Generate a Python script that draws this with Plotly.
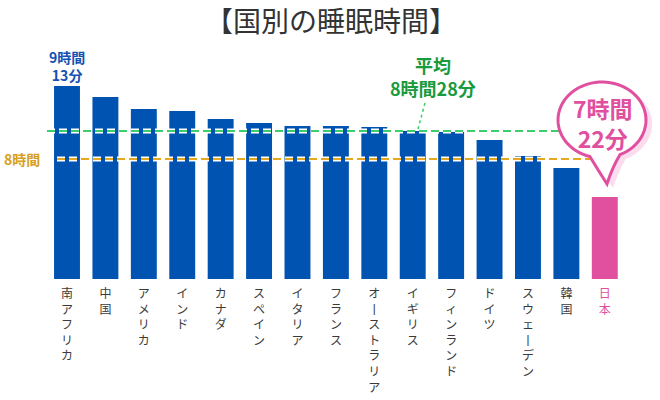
import plotly.graph_objects as go
import math

# ---- data (minutes of sleep per day) ----
countries = ["南アフリカ", "中国", "アメリカ", "インド", "カナダ", "スペイン", "イタリア",
             "フランス", "オーストラリア", "イギリス", "フィンランド", "ドイツ",
             "スウェーデン", "韓国", "日本"]
sleep_min = [553, 542, 530, 528, 520, 516, 513, 513, 512, 508, 507, 499, 483, 471, 442]
avg_min = 508      # 8時間28分
ref_min = 480      # 8時間
top_label = "9時間<br>13分"
avg_label = "平均<br>8時間28分"
ref_label = "8時間"
japan_label = "7時間<br>22分"

BLUE = "#0053b1"
PINK = "#e0509f"
GREEN_LINE = "#3ccd6c"
GREEN_TEXT = "#199a3c"
ORANGE = "#e6a81e"
ORANGE_TEXT = "#d6a022"
FONT = "Noto Sans CJK JP"

# layout geometry
W, H = 660, 400
ML, MR, MT, MB = 47, 36, 70, 121
PW = W - ML - MR
PH = H - MT - MB
Y0 = 360
Y1 = Y0 + PH


def px(x):
    return (x - ML) / PW


def py(y):
    return (H - MB - y) / PH


colors = [PINK if c == "日本" else BLUE for c in countries]


def vert(name):
    chars = list(name.replace("ー", "丨"))
    s = "<br>".join(chars)
    if name == "日本":
        s = "<span style='color:%s'>%s</span>" % (PINK, s)
    return s


fig = go.Figure()
fig.add_trace(go.Bar(x=countries, y=sleep_min, marker=dict(color=colors, line=dict(width=0)),
                     hoverinfo="skip"))

shapes = []
# reference lines with white halo
for val, col, x0 in [(avg_min, GREEN_LINE, 47), (ref_min, ORANGE, 57)]:
    shapes.append(dict(type="line", xref="paper", yref="y", x0=px(x0), x1=px(598), y0=val, y1=val,
                       line=dict(color="white", width=5, dash="8px,4px"), layer="above"))
    shapes.append(dict(type="line", xref="paper", yref="y", x0=px(x0), x1=px(598), y0=val, y1=val,
                       line=dict(color=col, width=2.2, dash="8px,4px"), layer="above"))

# dotted leader for average label
shapes.append(dict(type="line", xref="paper", yref="paper", x0=px(425), y0=py(103), x1=px(418), y1=py(129),
                   line=dict(color=GREEN_LINE, width=1.5, dash="dot"), layer="above"))

# speech bubble
cx, cy, rx, ry = 602, 120, 44, 38


def bubble_path(dx=0, dy=0):
    pts = []
    a0, a1 = 106, 426
    n = 64
    for i in range(n + 1):
        a = math.radians(a0 + (a1 - a0) * i / n)
        pts.append((cx + dx + rx * math.cos(a), cy + dy + ry * math.sin(a)))
    d = "M %f,%f" % (px(pts[0][0]), py(pts[0][1]))
    for x, y in pts[1:]:
        d += " L %f,%f" % (px(x), py(y))
    tipx, tipy = 607 + dx, 184 + dy
    d += " Q %f,%f %f,%f" % (px(612 + dx), py(168 + dy), px(tipx), py(tipy))
    d += " Q %f,%f %f,%f Z" % (px(598 + dx), py(170 + dy), px(pts[0][0]), py(pts[0][1]))
    return d


shapes.append(dict(type="path", xref="paper", yref="paper", path=bubble_path(6, 4),
                   fillcolor="rgba(236,130,190,0.28)", line=dict(width=0), layer="above"))
shapes.append(dict(type="path", xref="paper", yref="paper", path=bubble_path(),
                   fillcolor="white", line=dict(color=PINK, width=3), layer="above"))

annotations = [
    dict(text="【国別の睡眠時間】", xref="paper", yref="paper", x=px(331), y=py(20),
         showarrow=False, font=dict(family=FONT, size=28, color="#333333"), xanchor="center", yanchor="middle"),
    dict(text="<b>%s</b>" % top_label, xref="x", yref="paper", x=countries[0], y=py(66),
         showarrow=False, font=dict(family=FONT, size=14, color="#1552b3"), xanchor="center", yanchor="middle"),
    dict(text="<b>%s</b>" % ref_label, xref="paper", yref="y", x=px(22), y=ref_min,
         showarrow=False, font=dict(family=FONT, size=14, color=ORANGE_TEXT), xanchor="center", yanchor="middle"),
    dict(text="<b>%s</b>" % avg_label, xref="paper", yref="paper", x=px(433), y=py(76),
         showarrow=False, font=dict(family=FONT, size=18, color=GREEN_TEXT), xanchor="center", yanchor="middle"),
    dict(text="<b>%s</b>" % japan_label, xref="paper", yref="paper", x=px(603), y=py(123),
         showarrow=False, font=dict(family=FONT, size=23, color=PINK), xanchor="center", yanchor="middle"),
]

fig.update_layout(
    width=W, height=H,
    margin=dict(l=ML, r=MR, t=MT, b=MB, pad=0),
    paper_bgcolor="white", plot_bgcolor="white",
    showlegend=False, bargap=0.325,
    font=dict(family=FONT, size=12, color="#333333"),
    xaxis=dict(type="category", tickmode="array", tickvals=countries,
               ticktext=[vert(c) for c in countries], tickangle=0,
               showgrid=False, showline=False, zeroline=False, ticks="",
               ticklabelstandoff=6, automargin=False,
               tickfont=dict(family=FONT, size=12, color="#3a3a3a")),
    yaxis=dict(range=[Y0, Y1], visible=False, showgrid=False, zeroline=False, automargin=False),
    shapes=shapes, annotations=annotations,
)

fig.write_html("out.html")
